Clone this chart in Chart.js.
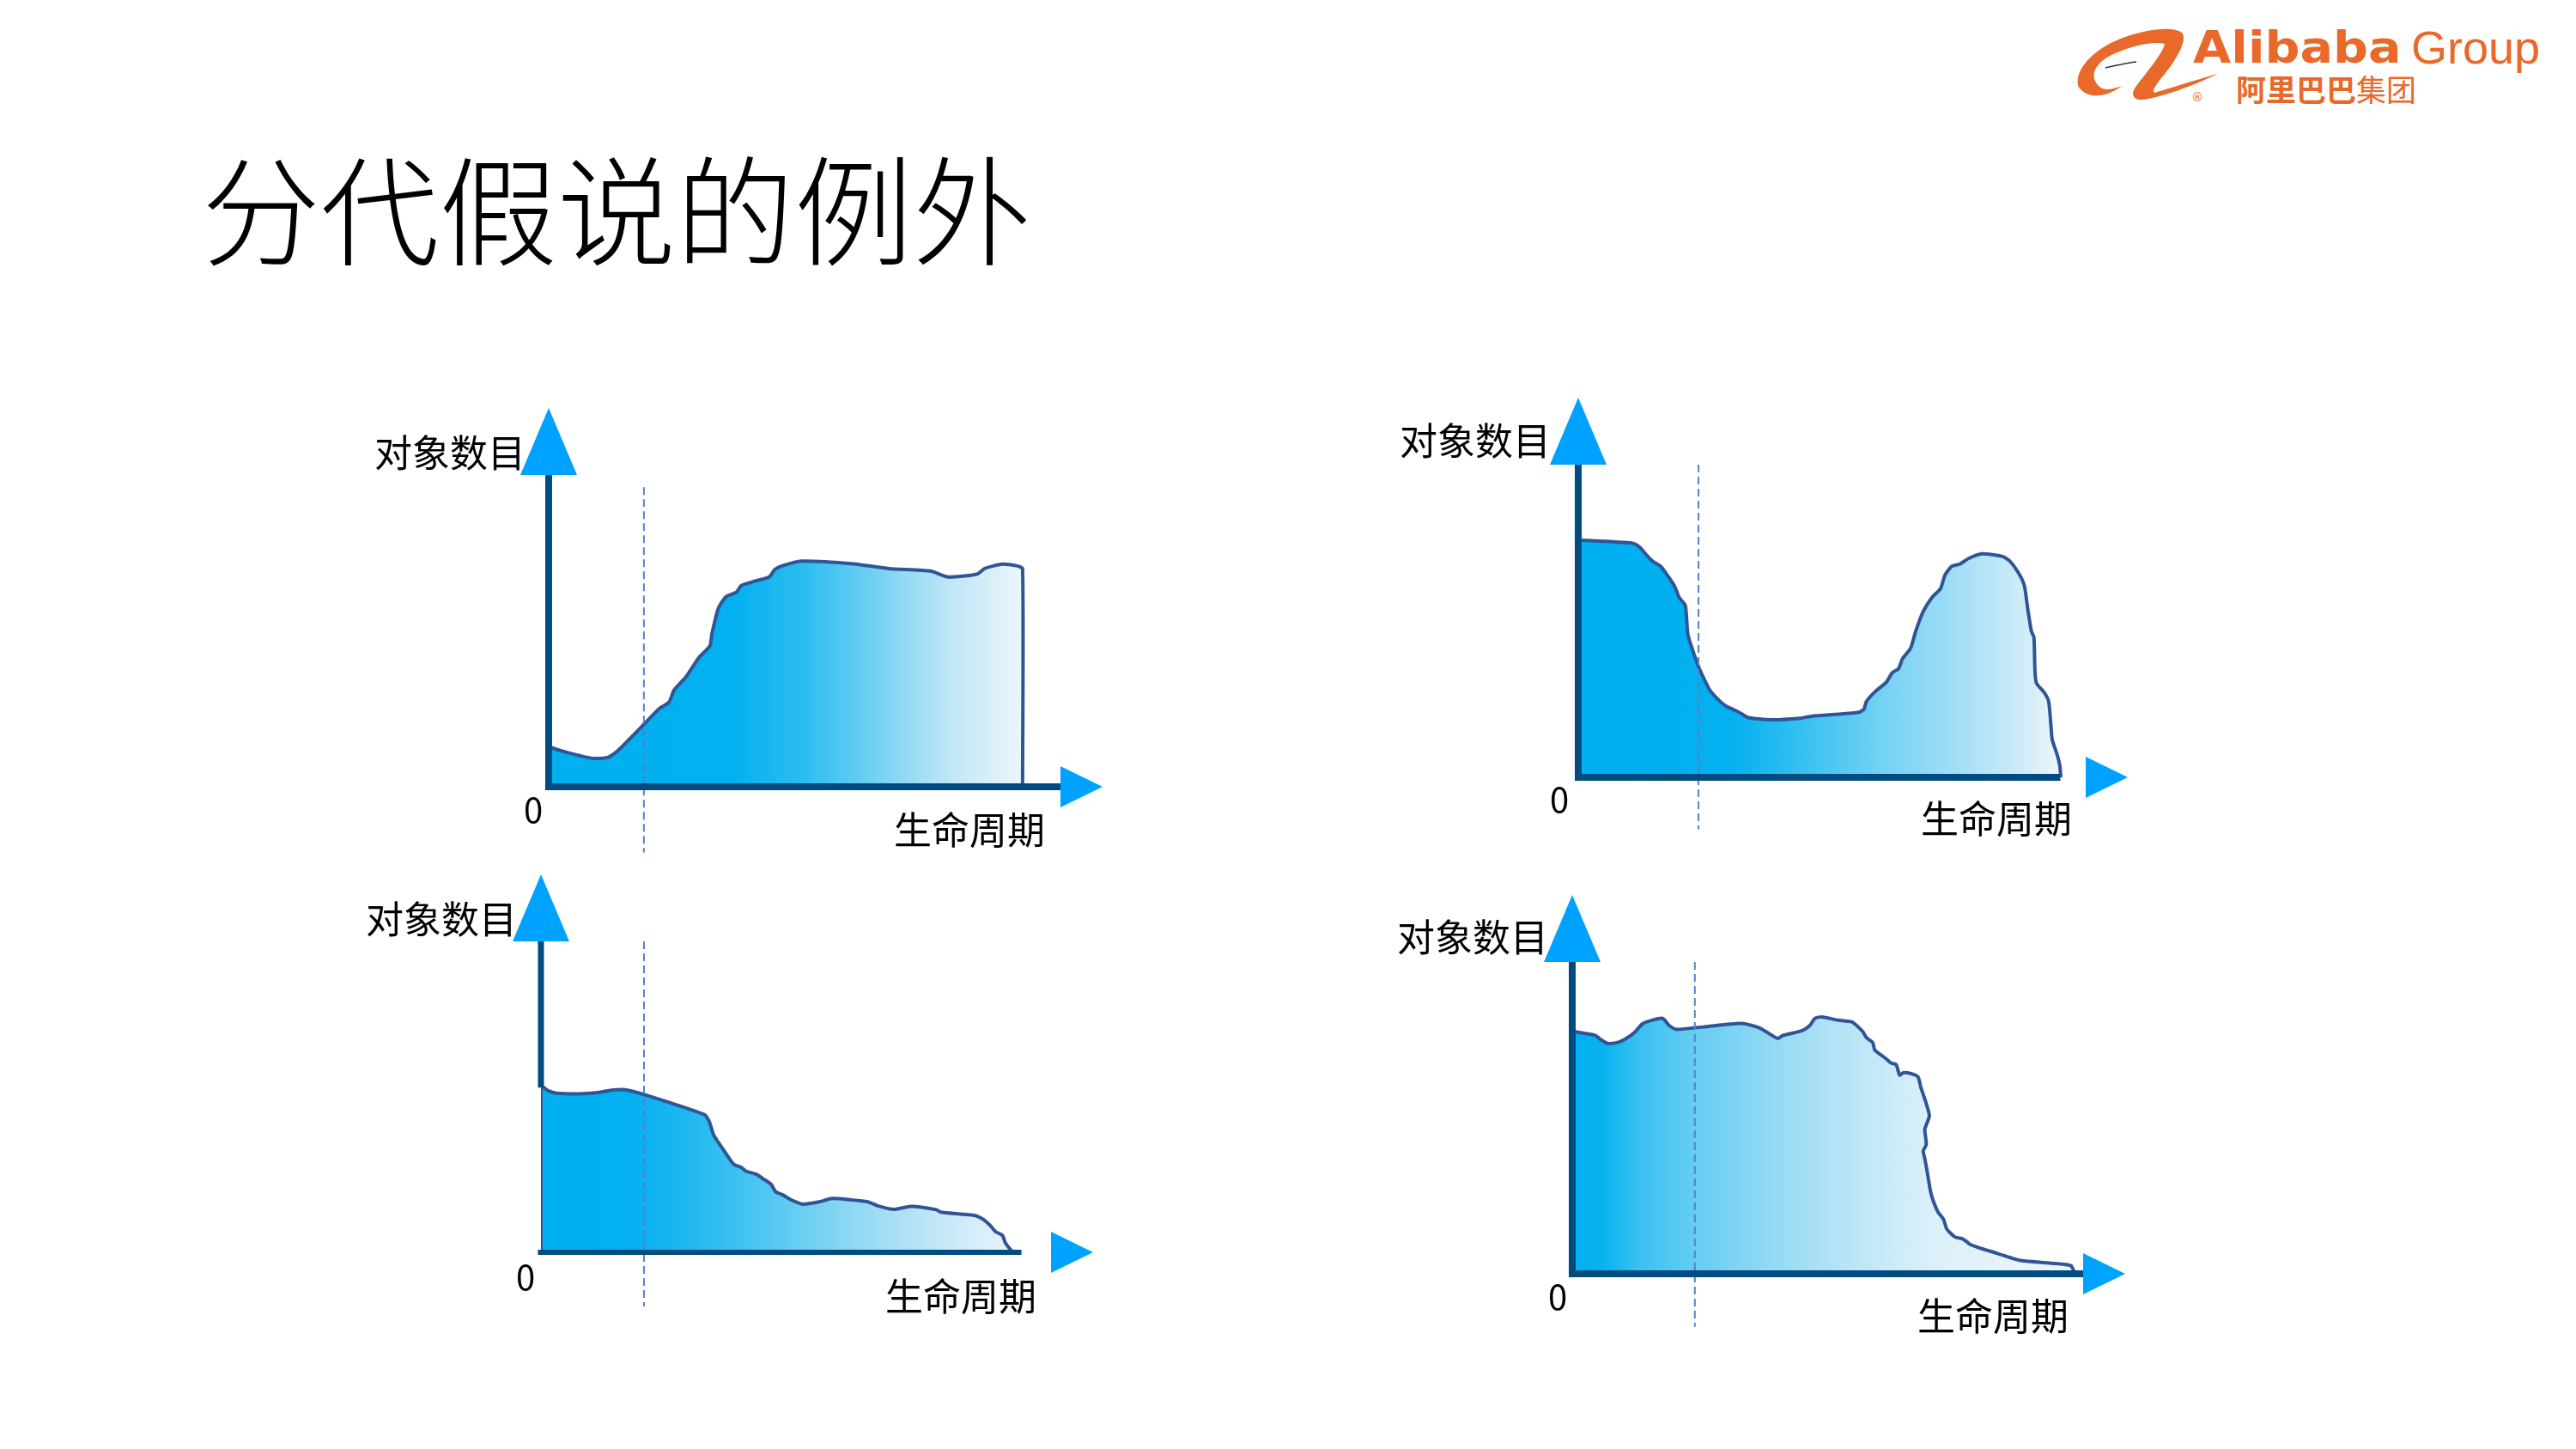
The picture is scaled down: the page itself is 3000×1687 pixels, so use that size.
<!DOCTYPE html>
<html><head><meta charset="utf-8">
<script src="https://cdn.jsdelivr.net/npm/chart.js@4/dist/chart.umd.min.js"></script>
<style>
html,body{margin:0;padding:0;background:#fff;width:3000px;height:1687px;overflow:hidden;position:relative;}
.t{position:absolute;white-space:nowrap;line-height:1;font-family:"Noto Sans CJK SC","Noto Sans",sans-serif;color:#000;}
canvas{position:absolute;}
</style></head><body>
<div id="root"></div>
<script>
// ---------- text ----------
const slideTitle = '分代假说的例外';
const yAxisTitle = '对象数目';
const xAxisTitle = '生命周期';
const originTick = '0';

// ---------- data (x: share of x-axis length, y: share of y-axis height) ----------
const c1X = [0, 3.8, 8.6, 11.5, 13.4, 15.8, 18.7, 21.6, 23.5, 24.5, 26.9, 29.3, 31.5, 31.9, 33.1, 34.6, 36.7, 37.6, 40.4, 43.1, 44.2, 45.7, 49.3, 59.6, 66.4, 74.6, 78.0, 83.7, 85.2, 88.6, 91.4, 92.6, 92.6];
const c1Y = [12.8, 10.9, 9.1, 9.4, 11.4, 15.3, 20.2, 25.1, 27.1, 31.0, 35.4, 41.3, 45.2, 49.1, 57.0, 60.9, 62.4, 64.5, 66.0, 67.3, 69.7, 70.9, 72.4, 71.5, 70.0, 69.2, 67.3, 68.2, 70.0, 71.4, 70.9, 69.9, 0];

const c2X = [0, 10.7, 12.1, 13.4, 14.6, 16.3, 17.5, 18.9, 19.9, 21.1, 21.6, 22.5, 23.8, 25.2, 26.0, 27.7, 29.1, 31.1, 32.2, 33.5, 37.9, 43.7, 46.1, 50.5, 55.3, 56.3, 56.8, 58.7, 60.7, 61.9, 63.1, 63.9, 65.5, 66.5, 68.0, 69.7, 71.4, 72.3, 73.6, 75.2, 76.9, 79.6, 83.5, 84.9, 86.6, 87.9, 88.6, 89.3, 89.8, 90.0, 90.3, 91.8, 92.7, 93.2, 93.4, 94.4, 94.9, 95.1];
const c2Y = [75.9, 74.9, 73.6, 71.2, 69.2, 67.4, 64.8, 61.4, 57.5, 55.0, 45.7, 40.9, 35.0, 30.1, 27.7, 24.7, 22.8, 21.3, 20.3, 19.1, 18.4, 18.9, 19.6, 20.1, 20.8, 21.8, 24.3, 27.7, 30.4, 33.5, 34.7, 37.9, 41.3, 46.7, 53.1, 57.5, 60.4, 64.8, 67.5, 68.2, 70.0, 71.5, 70.7, 69.4, 65.8, 61.4, 53.6, 46.7, 44.8, 34.0, 30.1, 27.2, 24.3, 15.5, 12.0, 7.1, 3.7, 0];

const c3X = [0, 0, 1.5, 3.0, 7.3, 11.2, 14.1, 16.5, 19.9, 32.0, 33.0, 33.9, 35.9, 37.8, 39.3, 40.2, 42.2, 43.6, 45.1, 46.0, 47.5, 48.9, 51.3, 54.7, 57.1, 63.9, 66.3, 69.2, 72.6, 77.5, 78.4, 82.3, 85.2, 86.7, 88.1, 89.1, 90.5, 91.0, 92.0, 92.6];
const c3Y = [0, 53.3, 51.9, 51.2, 51.0, 51.4, 52.2, 52.3, 50.9, 44.3, 42.0, 37.6, 32.7, 28.3, 27.3, 26.1, 25.1, 23.6, 21.9, 19.5, 18.4, 17.0, 15.5, 16.3, 17.3, 16.3, 14.8, 13.8, 14.8, 13.7, 12.9, 12.3, 11.8, 10.6, 8.6, 6.7, 5.4, 3.2, 1.0, 0];

const c4X = [0, 4.5, 5.5, 6.9, 8.9, 10.3, 12.2, 13.7, 15.6, 17.7, 19.0, 20.4, 26.2, 33.0, 36.3, 37.8, 40.2, 41.2, 45.0, 46.5, 47.5, 48.9, 51.8, 54.7, 55.9, 56.9, 57.6, 58.8, 59.2, 60.5, 61.4, 62.4, 63.4, 64.1, 64.8, 66.3, 67.7, 68.2, 69.2, 69.9, 69.2, 69.0, 69.3, 68.7, 69.0, 69.4, 70.1, 70.6, 71.6, 72.7, 73.3, 74.9, 76.4, 77.3, 77.8, 79.7, 83.1, 86.5, 88.0, 93.8, 97.6, 98.4];
const c4Y = [77.8, 76.5, 75.2, 73.9, 74.2, 75.2, 77.4, 80.1, 81.3, 81.9, 79.6, 78.4, 79.3, 80.3, 79.1, 77.8, 75.5, 76.4, 78.0, 79.6, 81.9, 82.4, 81.4, 80.8, 79.3, 77.6, 75.7, 74.2, 71.8, 70.1, 69.0, 67.6, 67.1, 63.7, 64.5, 64.2, 63.1, 60.0, 55.1, 50.7, 47.3, 46.3, 41.4, 39.4, 37.0, 33.5, 26.7, 23.7, 19.8, 17.4, 14.4, 11.8, 11.2, 10.2, 9.5, 8.3, 6.6, 4.8, 4.2, 3.4, 2.6, 0];

// dashed marker position and extent, x-axis line end, y-axis line start (data units)
const dashXs      = [18.6, 23.7, 20.2, 24.0];
const dashTops    = [96.1, 100, 100, 100];
const dashBottoms = [-21.1, -16.6, -17.4, -17.0];
const xAxisEnds   = [100, 95.0, 94.2, 100];
const yAxisStarts = [0, 0, 53, 0];

// ---------- layout (pixels) ----------
const boxes = [
  {L:639, R:1235, T:553, B:916, xw:8, yw:8},
  {L:1838, R:2429, T:541, B:905, xw:8, yw:8},
  {L:630, R:1224, T:1096, B:1458, xw:6, yw:7},
  {L:1831, R:2426, T:1120, B:1483, xw:8, yw:8}
];
const grads = [
  [[0,'#00B0F0'],[36,'#03B0F0'],[50,'#2DBDF0'],[60,'#5ECBF3'],[69,'#8FD9F5'],[79,'#C1E7F8'],[92.6,'#ECF5FB']],
  [[0,'#00B0F0'],[30,'#03B0F0'],[46,'#3EC3F1'],[60,'#74D2F4'],[75,'#A3DEF6'],[89,'#D5EDF9'],[95,'#EEF6FB']],
  [[0,'#00B0F0'],[17,'#03B0F0'],[30,'#22B9EF'],[45,'#54C8F2'],[60,'#8BD7F4'],[74,'#B8E4F7'],[89,'#E0F0FA'],[92.6,'#EEF5FB']],
  [[0,'#00B0F0'],[6,'#08B2EF'],[13,'#38C1F1'],[22,'#5ECBF2'],[37,'#8CD8F4'],[51,'#B2E2F6'],[61,'#C8EAF8'],[71,'#DCF0FA'],[85,'#E7F3FB'],[98.4,'#EEF5FC']]
];
const seriesX = [c1X, c2X, c3X, c4X];
const seriesY = [c1Y, c2Y, c3Y, c4Y];

const axesPlugin = {
  id: 'axes',
  afterDatasetsDraw(chart, args, o) {
    const {ctx, scales: {x, y}} = chart;
    const x0 = x.getPixelForValue(0), y0 = y.getPixelForValue(0);
    const yTop = y.getPixelForValue(100), xR = x.getPixelForValue(100);
    ctx.save();
    // dashed marker
    ctx.strokeStyle = '#5580D0'; ctx.lineWidth = 2; ctx.setLineDash([9, 5]);
    const dx = x.getPixelForValue(o.dashX);
    ctx.beginPath(); ctx.moveTo(dx, y.getPixelForValue(o.dashTop)); ctx.lineTo(dx, y.getPixelForValue(o.dashBottom)); ctx.stroke();
    ctx.setLineDash([]);
    // axes
    ctx.strokeStyle = '#004B80';
    ctx.lineWidth = o.yw;
    ctx.beginPath(); ctx.moveTo(x0, y.getPixelForValue(o.yStart) + (o.yStart === 0 ? o.xw / 2 : 0)); ctx.lineTo(x0, yTop); ctx.stroke();
    ctx.lineWidth = o.xw;
    ctx.beginPath(); ctx.moveTo(x0 - o.yw / 2, y0); ctx.lineTo(x.getPixelForValue(o.xEnd), y0); ctx.stroke();
    // arrow heads
    ctx.fillStyle = '#00A2FF';
    ctx.beginPath(); ctx.moveTo(x0 - 33, yTop); ctx.lineTo(x0 + 33, yTop); ctx.lineTo(x0, yTop - 78); ctx.closePath(); ctx.fill();
    ctx.beginPath(); ctx.moveTo(xR, y0 - 24); ctx.lineTo(xR + 49, y0); ctx.lineTo(xR, y0 + 24); ctx.closePath(); ctx.fill();
    ctx.restore();
  }
};

const root = document.getElementById('root');
function addText(txt, left, top, size, extra) {
  const d = document.createElement('div');
  d.className = 't';
  d.textContent = txt;
  d.style.left = left + 'px'; d.style.top = top + 'px'; d.style.fontSize = size + 'px';
  if (extra) Object.assign(d.style, extra);
  root.appendChild(d);
  return d;
}

const P = 100;
boxes.forEach((b, i) => {
  const cv = document.createElement('canvas');
  const w = b.R - b.L + 2 * P, h = b.B - b.T + 2 * P;
  cv.width = w; cv.height = h;
  cv.style.left = (b.L - P) + 'px'; cv.style.top = (b.T - P) + 'px';
  cv.style.width = w + 'px'; cv.style.height = h + 'px';
  root.appendChild(cv);
  new Chart(cv, {
    type: 'line',
    data: {
      datasets: [{
        data: seriesX[i].map((v, k) => ({x: v, y: seriesY[i][k]})),
        fill: 'origin',
        borderColor: '#2F5597',
        borderWidth: 4,
        borderJoinStyle: 'round',
        pointRadius: 0,
        tension: 0.2,
        backgroundColor: (c) => {
          const ch = c.chart;
          if (!ch.chartArea) return '#00B0F0';
          const sx = ch.scales.x;
          const g = ch.ctx.createLinearGradient(sx.getPixelForValue(0), 0, sx.getPixelForValue(100), 0);
          grads[i].forEach(([p, col]) => g.addColorStop(p / 100, col));
          return g;
        }
      }]
    },
    options: {
      responsive: false, animation: false, devicePixelRatio: 1,
      layout: {padding: P},
      scales: {
        x: {type: 'linear', min: 0, max: 100, display: false},
        y: {type: 'linear', min: 0, max: 100, display: false}
      },
      plugins: {
        legend: {display: false}, tooltip: {enabled: false},
        axes: {dashX: dashXs[i], dashTop: dashTops[i], dashBottom: dashBottoms[i], xEnd: xAxisEnds[i], yStart: yAxisStarts[i], xw: b.xw, yw: b.yw}
      }
    },
    plugins: [axesPlugin]
  });
});

// title
addText(slideTitle, 235, 169, 138, {fontWeight: '300', fontFamily: '"Noto Sans CJK SC Light","Noto Sans CJK SC DemiLight","Noto Sans CJK SC",sans-serif'});
// axis labels
const labelPos = [
  {yl:[436,503], o:[610,921], xl:[1041,942]},
  {yl:[1630,489], o:[1805,909], xl:[2237,929]},
  {yl:[426,1046], o:[601,1465], xl:[1031,1485]},
  {yl:[1627,1067], o:[1803,1488], xl:[2233,1508]}
];
labelPos.forEach(p => {
  addText(yAxisTitle, p.yl[0], p.yl[1], 44);
  addText(originTick, p.o[0], p.o[1], 40);
  addText(xAxisTitle, p.xl[0], p.xl[1], 44);
});

// logo
const orange = '#E8692A';
const svgNS = 'http://www.w3.org/2000/svg';
const svg = document.createElementNS(svgNS, 'svg');
svg.setAttribute('width', '3000'); svg.setAttribute('height', '160');
svg.style.position = 'absolute'; svg.style.left = '0'; svg.style.top = '0';
svg.innerHTML =
  '<path fill="' + orange + '" d="M2420,100 C2416,80 2440,55 2475,43 C2500,34 2530,30 2541,38 C2549,47 2532,74 2516,92 C2511,99 2506,105 2509,108 C2530,102 2560,92 2583,86 C2560,97 2522,112 2496,116 C2485,117 2480,110 2488,100 C2500,84 2519,62 2521,51 C2505,47 2472,56 2452,68 C2439,77 2433,90 2445,101 C2451,106 2461,104 2471,100 C2455,113 2430,117 2420,100 Z"/>' +
  '<path fill="none" stroke="#333" stroke-width="1.5" d="M2452,79 C2465,76 2478,73 2488,72"/>';
root.appendChild(svg);
addText('Alibaba', 2554, 29, 52, {fontFamily: '"DejaVu Sans",sans-serif', fontWeight: 'bold', color: orange, transform: 'scaleX(1.1)', transformOrigin: 'left top'});
addText('Group', 2808, 28, 54, {fontFamily: '"Liberation Sans",Arial,sans-serif', color: orange});
addText('阿里巴巴', 2604, 85, 35, {fontWeight: 'bold', color: orange});
addText('集团', 2744, 85, 35, {color: orange});
addText('®', 2552, 106, 14, {fontFamily: '"DejaVu Sans",sans-serif', color: orange});
</script>
</body></html>
